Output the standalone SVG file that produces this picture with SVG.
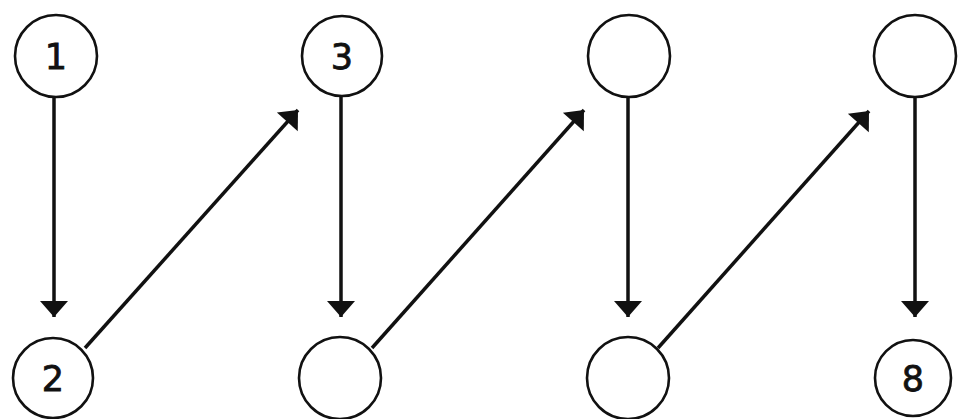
<svg xmlns="http://www.w3.org/2000/svg" width="959" height="419" viewBox="0 0 959 419">
<style>
.n{fill:#fff;stroke:#111;stroke-width:2.6}
.t{font-family:"DejaVu Sans","Liberation Sans",sans-serif;font-size:35px;fill:#111;stroke:#111;stroke-width:0.8;text-anchor:middle;dominant-baseline:central}
.c{stroke:#111;stroke-width:3.5;fill:none;marker-end:url(#ah)}
</style>
<defs>
<marker id="ah" markerUnits="userSpaceOnUse" markerWidth="28" markerHeight="28" viewBox="0 0 16 28" refX="16" refY="14" orient="auto">
<path d="M0,0 L16,14 L0,28 Z" fill="#111"/>
</marker>
</defs>
<rect width="959" height="419" fill="#fff"/>
<g id="connectors">
<line class="c" x1="54" y1="97" x2="54" y2="317"/>
<line class="c" x1="341" y1="97" x2="341" y2="317"/>
<line class="c" x1="628" y1="97" x2="628" y2="317"/>
<line class="c" x1="915" y1="97" x2="915" y2="317"/>
<line class="c" x1="85" y1="348" x2="298" y2="110"/>
<line class="c" x1="372" y1="348" x2="584" y2="110"/>
<line class="c" x1="658" y1="348" x2="869" y2="111"/>
</g>
<g id="n1"><circle class="n" cx="56" cy="56" r="41"/><text class="t" x="56" y="57">1</text></g>
<g id="n2"><circle class="n" cx="53" cy="378" r="40"/><text class="t" x="53" y="379">2</text></g>
<g id="n3"><circle class="n" cx="342" cy="56" r="40"/><text class="t" x="342" y="57">3</text></g>
<g id="n4"><circle class="n" cx="340" cy="378" r="41"/></g>
<g id="n5"><circle class="n" cx="629" cy="56" r="41"/></g>
<g id="n6"><circle class="n" cx="628" cy="378" r="41"/></g>
<g id="n7"><circle class="n" cx="915" cy="56" r="41"/></g>
<g id="n8"><circle class="n" cx="913" cy="378" r="38"/><text class="t" x="913" y="379">8</text></g>
</svg>
